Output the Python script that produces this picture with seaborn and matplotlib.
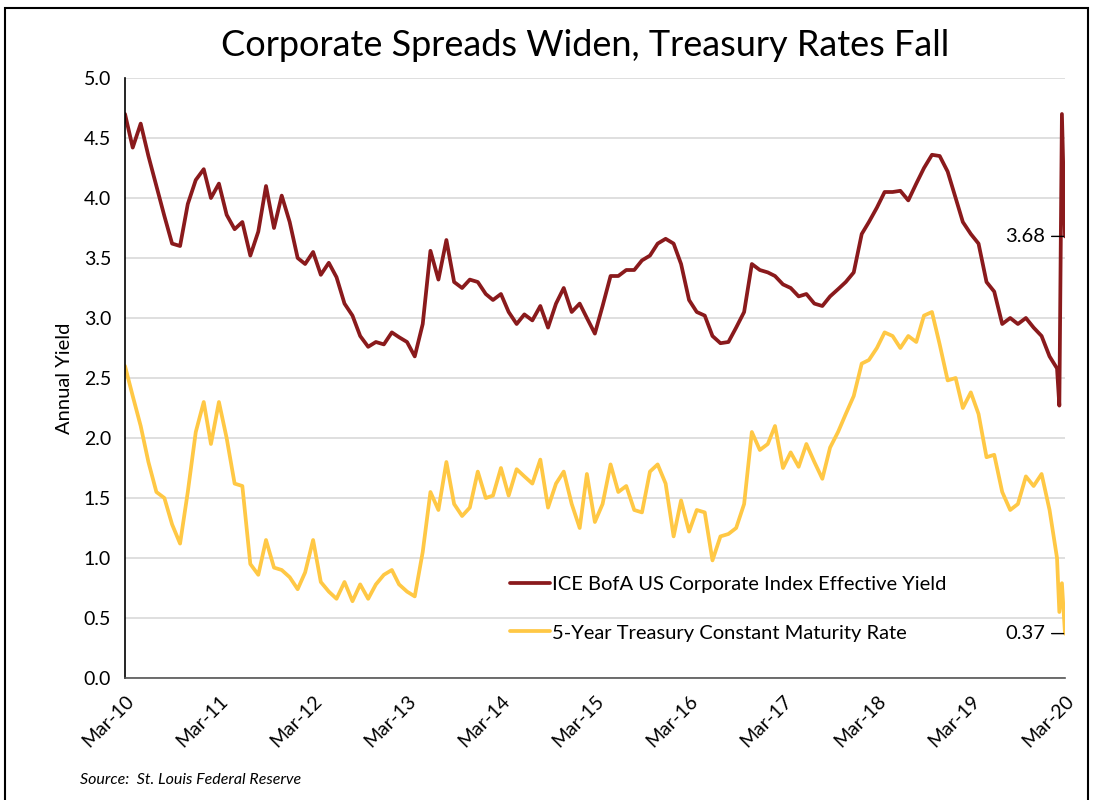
import pandas as pd
import numpy as np
import matplotlib
matplotlib.use("Agg")
import matplotlib.pyplot as plt
from matplotlib.patches import Rectangle
import seaborn as sns

# monthly readings, Mar-2010 .. Feb-2020 (month end)
corp_yield = [4.70, 4.42, 4.62, 4.35, 4.10, 3.85, 3.62, 3.60, 3.95, 4.15,
              4.24, 4.00, 4.12, 3.86, 3.74, 3.80, 3.52, 3.72, 4.10, 3.75,
              4.02, 3.80, 3.50, 3.45, 3.55, 3.36, 3.46, 3.34, 3.12, 3.02,
              2.85, 2.76, 2.80, 2.78, 2.88, 2.84, 2.80, 2.68, 2.95, 3.56,
              3.32, 3.65, 3.30, 3.25, 3.32, 3.30, 3.20, 3.15, 3.20, 3.05,
              2.95, 3.03, 2.98, 3.10, 2.92, 3.12, 3.25, 3.05, 3.12, 3.00,
              2.87, 3.10, 3.35, 3.35, 3.40, 3.40, 3.48, 3.52, 3.62, 3.66,
              3.62, 3.45, 3.15, 3.05, 3.02, 2.85, 2.79, 2.80, 2.92, 3.05,
              3.45, 3.40, 3.38, 3.35, 3.28, 3.25, 3.18, 3.20, 3.12, 3.10,
              3.18, 3.24, 3.30, 3.38, 3.70, 3.80, 3.92, 4.05, 4.05, 4.06,
              3.98, 4.12, 4.25, 4.36, 4.35, 4.22, 4.00, 3.80, 3.70, 3.62,
              3.30, 3.22, 2.95, 3.00, 2.95, 3.00, 2.92, 2.85, 2.68, 2.58]
treasury_5y = [2.60, 2.35, 2.10, 1.80, 1.55, 1.50, 1.28, 1.12, 1.55, 2.05,
               2.30, 1.95, 2.30, 2.00, 1.62, 1.60, 0.95, 0.86, 1.15, 0.92,
               0.90, 0.84, 0.74, 0.88, 1.15, 0.80, 0.72, 0.66, 0.80, 0.64,
               0.78, 0.66, 0.78, 0.86, 0.90, 0.78, 0.72, 0.68, 1.05, 1.55,
               1.40, 1.80, 1.45, 1.35, 1.42, 1.72, 1.50, 1.52, 1.75, 1.52,
               1.74, 1.68, 1.62, 1.82, 1.42, 1.62, 1.72, 1.45, 1.25, 1.70,
               1.30, 1.45, 1.78, 1.55, 1.60, 1.40, 1.38, 1.72, 1.78, 1.62,
               1.18, 1.48, 1.22, 1.40, 1.38, 0.98, 1.18, 1.20, 1.25, 1.45,
               2.05, 1.90, 1.95, 2.10, 1.75, 1.88, 1.76, 1.95, 1.80, 1.66,
               1.92, 2.05, 2.20, 2.35, 2.62, 2.65, 2.75, 2.88, 2.85, 2.75,
               2.85, 2.80, 3.02, 3.05, 2.78, 2.48, 2.50, 2.25, 2.38, 2.20,
               1.84, 1.86, 1.55, 1.40, 1.45, 1.68, 1.60, 1.70, 1.40, 1.00]

# March 2020 crash
mar20_dates = ["2020-03-09", "2020-03-19", "2020-03-31"]
corp_mar20 = [2.27, 4.70, 3.68]
treas_mar20 = [0.55, 0.79, 0.37]

tick_labels = ["Mar-10", "Mar-11", "Mar-12", "Mar-13", "Mar-14", "Mar-15",
               "Mar-16", "Mar-17", "Mar-18", "Mar-19", "Mar-20"]

corp_label = "ICE BofA US Corporate Index Effective Yield"
treas_label = "5-Year Treasury Constant Maturity Rate"

dates = list(pd.date_range("2010-03-31", periods=len(corp_yield), freq="ME")) + list(pd.to_datetime(mar20_dates))
df = pd.DataFrame({
    "date": dates + dates,
    "value": corp_yield + corp_mar20 + treasury_5y + treas_mar20,
    "series": [corp_label] * len(dates) + [treas_label] * len(dates),
})

sns.set_style("white")
plt.rcParams["font.family"] = ["Lato", "DejaVu Sans"]
plt.rcParams["text.color"] = "black"
plt.rcParams["axes.labelcolor"] = "black"
plt.rcParams["xtick.color"] = "black"
plt.rcParams["ytick.color"] = "black"

fig = plt.figure(figsize=(10.93, 8), dpi=100)
ax = fig.add_axes([125 / 1093, 1 - 678 / 800, 940 / 1093, 600 / 800])

palette = {corp_label: "#8A1A1C", treas_label: "#FFC845"}
sns.lineplot(data=df, x="date", y="value", hue="series", palette=palette,
             linewidth=2.7, ax=ax)

tick_dates = pd.to_datetime([f"20{i:02d}-03-31" for i in range(10, 21)])
ax.set_xlim(tick_dates[0], tick_dates[-1])
ax.set_xticks(tick_dates)
ax.set_xticklabels(tick_labels, rotation=45, ha="right", rotation_mode="anchor",
                   fontsize=14)
ax.set_ylim(0, 5)
ax.set_yticks(np.arange(0, 5.01, 0.5))
ax.set_yticklabels([f"{v:.1f}" for v in np.arange(0, 5.01, 0.5)], fontsize=14)
ax.yaxis.grid(True, color="#d9d9d9", linewidth=1.2)
ax.set_axisbelow(True)
ax.tick_params(axis="x", direction="out", length=6, width=1, color="#555555", pad=4)
ax.tick_params(axis="y", length=0, pad=10)
ax.set_xlabel("")
ax.set_ylabel("Annual Yield", fontsize=14.5, labelpad=8)
for s in ["top", "right"]:
    ax.spines[s].set_visible(False)
ax.spines["left"].set_color("black")
ax.spines["bottom"].set_color("#555555")
ax.spines["left"].set_linewidth(1.2)
ax.spines["bottom"].set_linewidth(1.2)

leg = ax.legend(loc="upper left", bbox_to_anchor=(0.39, 0.2), frameon=False,
                fontsize=14.5, handlelength=2.0, handletextpad=0.1, labelspacing=1.55)
for line in leg.get_lines():
    line.set_linewidth(2.7)

# end-of-series value labels
ax.annotate(f"{corp_mar20[-1]:.2f}", xy=(pd.Timestamp(mar20_dates[-1]), corp_mar20[-1]),
            xytext=(-14, 0), textcoords="offset points", ha="right", va="center",
            fontsize=14.5, arrowprops=dict(arrowstyle="-", color="black", lw=1,
                                           shrinkA=2, shrinkB=1))
ax.annotate(f"{treas_mar20[-1]:.2f}", xy=(pd.Timestamp(mar20_dates[-1]), treas_mar20[-1]),
            xytext=(-14, 0), textcoords="offset points", ha="right", va="center",
            fontsize=14.5, arrowprops=dict(arrowstyle="-", color="black", lw=1,
                                           shrinkA=2, shrinkB=1))

fig.text(0.535, 1 - 45 / 800, "Corporate Spreads Widen, Treasury Rates Fall",
         ha="center", va="center", fontsize=26)
fig.text(80 / 1093, 1 - 780 / 800, "Source:  St. Louis Federal Reserve",
         ha="left", va="center", fontsize=11.5, style="italic")

fig.patches.append(Rectangle((5 / 1093, -0.1), 1083 / 1093, 1.09, transform=fig.transFigure,
                             fill=False, edgecolor="black", linewidth=1.5, clip_on=False))

fig.savefig("out.png", dpi=100)
